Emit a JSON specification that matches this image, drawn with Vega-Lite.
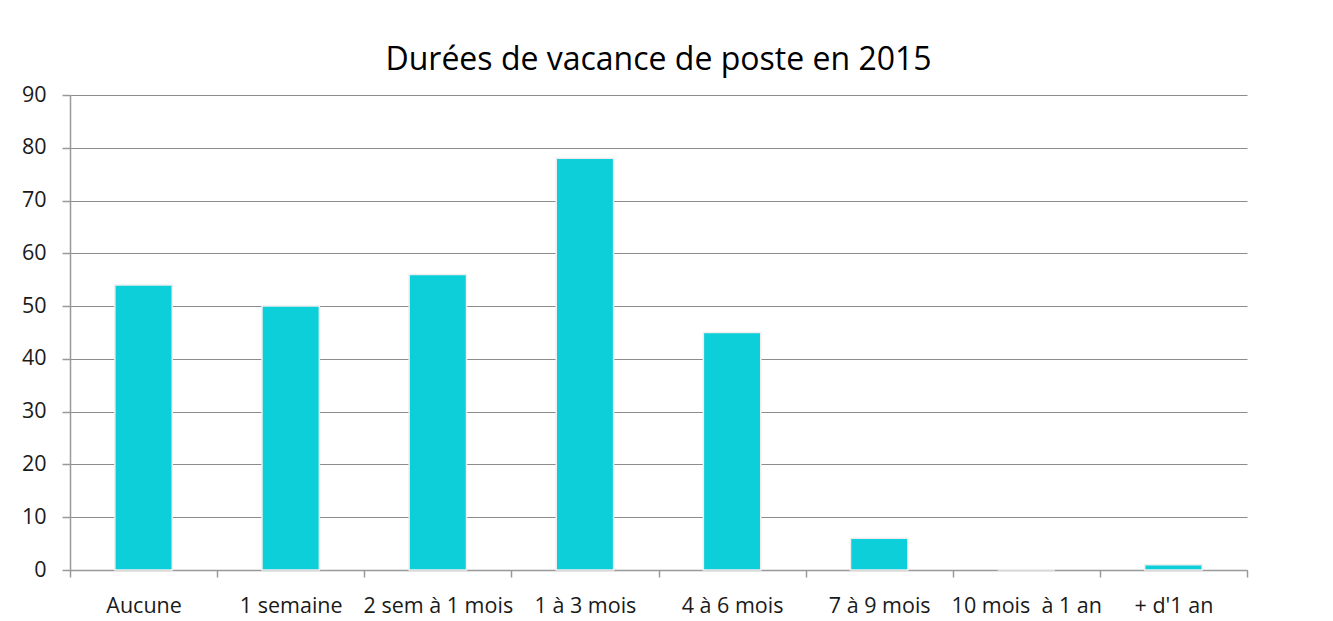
{
  "$schema": "https://vega.github.io/schema/vega-lite/v6.json",
  "autosize": "none",
  "width": 1177,
  "height": 475,
  "padding": {"left": 70, "top": 95, "right": 86, "bottom": 51},
  "background": "white",
  "title": {
    "text": "Durées de vacance de poste en 2015",
    "fontSize": 32,
    "font": "Open Sans",
    "fontWeight": "normal",
    "color": "#000000",
    "anchor": "middle",
    "offset": 7
  },
  "data": {
    "values": [
      {"cat": "Aucune", "v": 54},
      {"cat": "1 semaine", "v": 50},
      {"cat": "2 sem à 1 mois", "v": 56},
      {"cat": "1 à 3 mois", "v": 78},
      {"cat": "4 à 6 mois", "v": 45},
      {"cat": "7 à 9 mois", "v": 6},
      {"cat": "10 mois\u00a0 à 1 an", "v": 0},
      {"cat": "+ d'1 an", "v": 1}
    ]
  },
  "mark": {"type": "bar", "color": "#0dcfd9", "stroke": "#eeeeee", "strokeWidth": 1.5, "width": {"band": 0.39}},
  "encoding": {
    "x": {
      "field": "cat",
      "type": "nominal",
      "sort": null,
      "title": null,
      "scale": {"paddingInner": 0, "paddingOuter": 0},
      "axis": {
        "labelAngle": 0,
        "labelFont": "Open Sans",
        "labelFontSize": 21.5,
        "labelColor": "#1a1a1a",
        "labelPadding": 18,
        "domainColor": "#999999",
        "domainWidth": 1.5,
        "tickColor": "#999999",
        "tickWidth": 1.5,
        "tickSize": 7,
        "tickBand": "extent",
        "grid": false
      }
    },
    "y": {
      "field": "v",
      "type": "quantitative",
      "title": null,
      "scale": {"domain": [0, 90]},
      "axis": {
        "values": [0, 10, 20, 30, 40, 50, 60, 70, 80, 90],
        "labelFont": "Open Sans",
        "labelFontSize": 21.5,
        "labelColor": "#1a1a1a",
        "labelPadding": 16,
        "domainColor": "#999999",
        "domainWidth": 1.5,
        "tickColor": "#999999",
        "tickWidth": 1.5,
        "tickSize": 8,
        "gridColor": "#8c8c8c",
        "gridWidth": 1.2
      }
    }
  },
  "config": {"view": {"stroke": null}}
}
